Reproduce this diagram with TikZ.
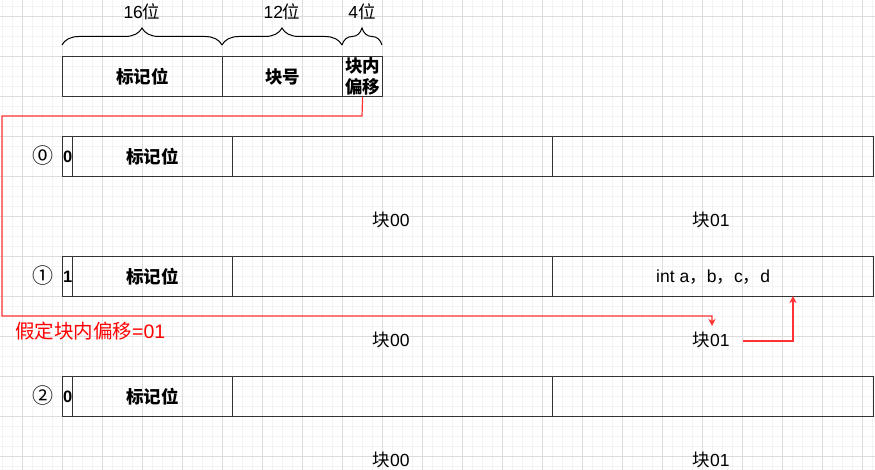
\documentclass[tikz,border=0pt]{standalone}
\usepackage{fontspec}
\setmainfont{Liberation Sans}
\newfontfamily\cjk{Noto Sans CJK SC}
\newfontfamily\symf{Noto Sans CJK SC}
\usetikzlibrary{decorations.pathreplacing,arrows.meta}
\definecolor{lnred}{HTML}{FF3333}
\definecolor{txtred}{HTML}{FF0000}
\definecolor{gmajor}{HTML}{DDDDDD}
\definecolor{gminor}{HTML}{F3F3F3}
\begin{document}
\begin{tikzpicture}[x=1pt,y=-1pt,
  cell/.style={draw=black!80,line width=1.2pt,minimum height=40pt,inner sep=0pt,
    anchor=north west,font=\cjk\bfseries\fontsize{17.5}{21}\selectfont,align=center},
  bitcell/.style={cell,minimum width=10pt,font=\bfseries\fontsize{16.5}{18}\selectfont},
  lbl/.style={inner sep=0pt,minimum width=60pt,minimum height=20pt,font=\fontsize{17.5}{21}\selectfont},
  circ/.style={inner sep=0pt,font=\symf\fontsize{21}{24}\selectfont},
  bracestyle/.style={draw=black,line width=1pt,decorate,decoration={brace,amplitude=17pt}},
  redline/.style={draw=lnred,line width=1.2pt},
  redarrow/.style={redline,-{Stealth[length=7pt,width=7pt,inset=2pt]}}]
\useasboundingbox (0,0) rectangle (875,470);
% background grid
\foreach \x in {2,12,...,872} \draw[gminor,line width=0.8pt] (\x,0) -- (\x,470);
\foreach \y in {6,16,...,466} \draw[gminor,line width=0.8pt] (0,\y) -- (875,\y);
\foreach \x in {22,62,...,862} \draw[gmajor,line width=0.8pt] (\x,0) -- (\x,470);
\foreach \y in {16,56,...,456} \draw[gmajor,line width=0.8pt] (0,\y) -- (875,\y);

% address format
\node[cell,minimum width=160pt] (tag) at (62,56) {标记位};
\node[cell,minimum width=120pt] (blk) at (222,56) {块号};
\node[cell,minimum width=40pt] (off) at (342,56) {块内\\偏移};
\draw[bracestyle] (62,45) -- (222,45);
\draw[bracestyle] (222,45) -- (342,45);
\draw[bracestyle] (342,45) -- (382,45);
\node[lbl] (w16) at (142,12) {16{\cjk 位}};
\node[lbl] (w12) at (282,12) {12{\cjk 位}};
\node[lbl] (w4) at (362,12) {4{\cjk 位}};

% row 0
\node[circ] (n0) at (42.5,156) {⓪};
\node[bitcell] (v0) at (62,136) {0};
\node[cell,minimum width=160pt] (t0) at (72,136) {标记位};
\node[cell,minimum width=320pt] (a0) at (232,136) {};
\node[cell,minimum width=321pt] (b0) at (552,136) {};
\node[lbl] (la0) at (391,220) {{\cjk 块}00};
\node[lbl] (lb0) at (711,220) {{\cjk 块}01};

% row 1
\node[circ] (n1) at (42.5,276) {①};
\node[bitcell] (v1) at (62,256) {1};
\node[cell,minimum width=160pt] (t1) at (72,256) {标记位};
\node[cell,minimum width=320pt] (a1) at (232,256) {};
\node[cell,minimum width=321pt,font=\fontsize{17.5}{21}\selectfont] (b1) at (552,256) {int a{\cjk ，}b{\cjk ，}c{\cjk ，}d};
\node[lbl] (la1) at (391,340) {{\cjk 块}00};
\node[lbl] (lb1) at (711,340) {{\cjk 块}01};

% row 2
\node[circ] (n2) at (42.5,396) {②};
\node[bitcell] (v2) at (62,376) {0};
\node[cell,minimum width=160pt] (t2) at (72,376) {标记位};
\node[cell,minimum width=320pt] (a2) at (232,376) {};
\node[cell,minimum width=321pt] (b2) at (552,376) {};
\node[lbl] (la2) at (391,460) {{\cjk 块}00};
\node[lbl] (lb2) at (711,460) {{\cjk 块}01};

% red note
\node[anchor=west,inner sep=0pt,text=txtred,font=\cjk\fontsize{19.5}{23}\selectfont] (note) at (15,331) {假定块内偏移{\rmfamily =01}};

% red connectors
\coordinate (r1) at (362,116);
\coordinate (r2) at (2,116);
\coordinate (r3) at (2,316);
\coordinate (r4) at (712,316);
\coordinate (r5) at (712,326);
\draw[redarrow] (off.south) -- (r1) -- (r2) -- (r3) -- (r4) -- (r5);
\coordinate (s1) at (743,341);
\coordinate (s2) at (793,296);
\draw[redarrow] (s1) -| (s2);
\end{tikzpicture}
\end{document}
